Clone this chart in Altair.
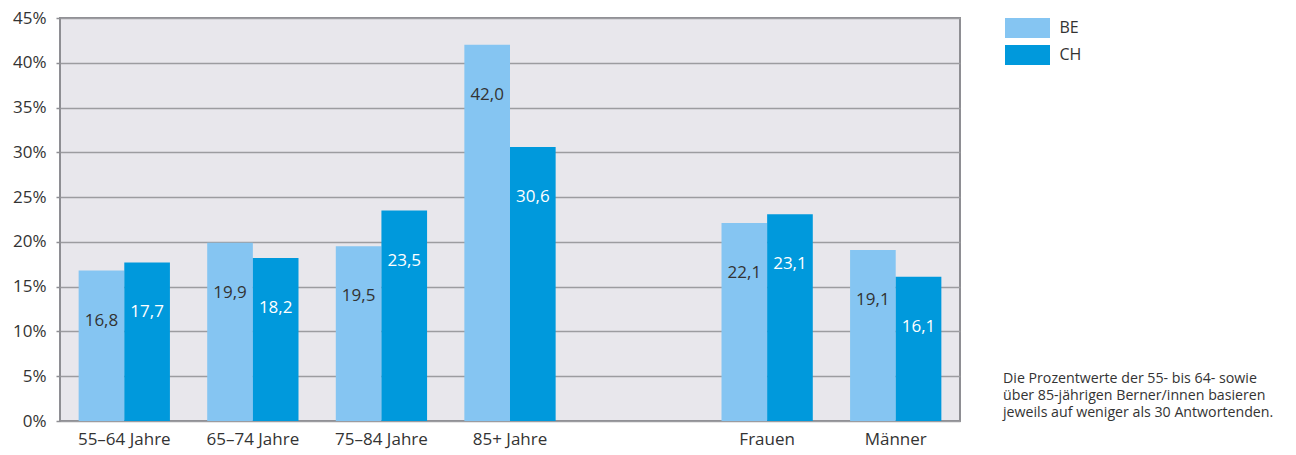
import altair as alt
import pandas as pd

categories = ["55–64 Jahre", "65–74 Jahre", "75–84 Jahre", "85+ Jahre", "Frauen", "Männer"]
be_values = [16.8, 19.9, 19.5, 42.0, 22.1, 19.1]
ch_values = [17.7, 18.2, 23.5, 30.6, 23.1, 16.1]
series = ["BE", "CH"]
x_domain = ["55–64 Jahre", "65–74 Jahre", "75–84 Jahre", "85+ Jahre", " ", "Frauen", "Männer"]
y_ticks = [0, 5, 10, 15, 20, 25, 30, 35, 40, 45]
footnote_lines = [
    "Die Prozentwerte der 55- bis 64- sowie",
    "über 85-jährigen Berner/innen basieren",
    "jeweils auf weniger als 30 Antwortenden.",
]

rows = []
for c, b, h in zip(categories, be_values, ch_values):
    rows.append({"cat": c, "series": "BE", "value": b})
    rows.append({"cat": c, "series": "CH", "value": h})
df = pd.DataFrame(rows)

colors = ["#85C5F2", "#0099DC"]
FONT = "Open Sans"
TXT = "#333333"

x_enc = alt.X(
    "cat:N",
    sort=x_domain,
    scale=alt.Scale(domain=x_domain, paddingInner=0.29, paddingOuter=0.145),
    axis=alt.Axis(title=None, labelAngle=0, ticks=False, domain=False,
                  labelFontSize=17, labelColor=TXT, labelPadding=10, labelFont=FONT),
)
y_enc = alt.Y(
    "value:Q",
    scale=alt.Scale(domain=[0, 45], nice=False),
    axis=alt.Axis(values=y_ticks, labelExpr="datum.value + '%'", grid=True,
                  gridColor="#9C9CA0", gridWidth=1.5, tickColor="#8E8E93",
                  tickSize=4, tickWidth=1.5, domain=False, labelFontSize=17,
                  labelColor=TXT, labelFont=FONT, labelPadding=10, title=None),
)
xoff = alt.XOffset("series:N", scale=alt.Scale(domain=series, paddingInner=0, paddingOuter=0))

base = alt.Chart(df).encode(x=x_enc, y=y_enc, xOffset=xoff)

bars = base.mark_bar().encode(
    color=alt.Color(
        "series:N",
        scale=alt.Scale(domain=series, range=colors),
        legend=alt.Legend(
            title=None, orient="none", legendX=957.5, legendY=0, padding=0,
            symbolType="M-2.25,-1H2.25V1H-2.25Z", symbolSize=400,
            symbolStrokeWidth=0, symbolOpacity=1, rowPadding=7,
            labelFontSize=16, labelFont=FONT, labelColor=TXT, labelOffset=22,
        ),
    )
)

labels = base.transform_calculate(
    label="replace(format(datum.value, '.1f'), '.', ',')"
).mark_text(baseline="middle", dy=50, fontSize=17, font=FONT).encode(
    text="label:N",
    color=alt.condition(alt.datum.series == "BE", alt.value(TXT), alt.value("white")),
)

foot = alt.Chart(pd.DataFrame({"t": ["\n".join(footnote_lines)]})).mark_text(
    align="left", baseline="top", fontSize=14.2, lineHeight=17, font=FONT,
    color=TXT, lineBreak="\n",
).encode(x=alt.value(943), y=alt.value(354), text="t:N")

chart = alt.layer(bars, labels, foot).properties(
    width=900, height=403,
    autosize=alt.AutoSizeParams(type="none"),
    padding={"left": 52, "top": 10, "right": 328, "bottom": 33},
).configure_view(fill="#E8E7EC", stroke="#8E8E93", strokeWidth=2)

chart.save("out.html", embed_options={"renderer": "svg", "actions": False})
